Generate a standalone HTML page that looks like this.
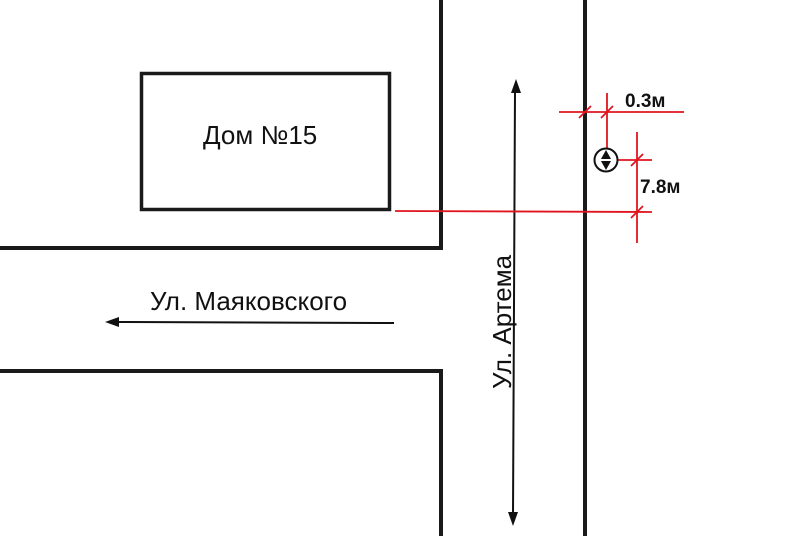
<!DOCTYPE html>
<html><head><meta charset="utf-8"><style>html,body{margin:0;padding:0;background:#fff}svg{display:block}</style></head>
<body>
<svg width="800" height="536" viewBox="0 0 800 536" xmlns="http://www.w3.org/2000/svg" font-family="Liberation Sans, sans-serif">
<rect width="800" height="536" fill="#fff"/>
<g stroke="#1a1a1a" stroke-width="4" fill="none">
<polyline points="0,248 441,248 441,0"/>
<polyline points="0,371 441,371 441,536"/>
<line x1="585" y1="0" x2="585" y2="536"/>
</g>
<rect x="141.5" y="73.5" width="248" height="136" fill="none" stroke="#1a1a1a" stroke-width="3.5"/>
<text x="203" y="144" font-size="26" fill="#111">Дом №15</text>
<g stroke="#111" stroke-width="2">
<line x1="515" y1="90" x2="513" y2="515"/>
<line x1="115" y1="322" x2="394" y2="323"/>
</g>
<polygon points="516,79 511,93 521,93" fill="#111"/>
<polygon points="513,526 508,512 518,512" fill="#111"/>
<polygon points="105,322 119,317 119,327" fill="#111"/>
<text x="150" y="310" font-size="26" fill="#111">Ул. Маяковского</text>
<text transform="translate(511,389) rotate(-90)" font-size="26" fill="#111">Ул. Артема</text>
<g stroke="#e0141e" stroke-width="1.8">
<line x1="559" y1="112" x2="684" y2="112"/>
<line x1="607" y1="93" x2="607" y2="148"/>
<line x1="637" y1="132" x2="637" y2="243"/>
<line x1="612" y1="160" x2="652" y2="160"/>
<line x1="395" y1="211" x2="652" y2="212"/>
<line x1="579" y1="118" x2="591" y2="106"/>
<line x1="601" y1="118" x2="613" y2="106"/>
<line x1="631" y1="166" x2="643" y2="154"/>
<line x1="631" y1="218" x2="643" y2="206"/>
</g>
<circle cx="606" cy="160" r="11.5" fill="#fff" stroke="#111" stroke-width="2"/>
<polygon points="606,150 601,159 611,159" fill="#111"/>
<polygon points="606,170 601,161 611,161" fill="#111"/>
<text x="625" y="107" font-size="19" font-weight="bold" fill="#111">0.3м</text>
<text x="640" y="193" font-size="19" font-weight="bold" fill="#111">7.8м</text>
</svg>
</body></html>
